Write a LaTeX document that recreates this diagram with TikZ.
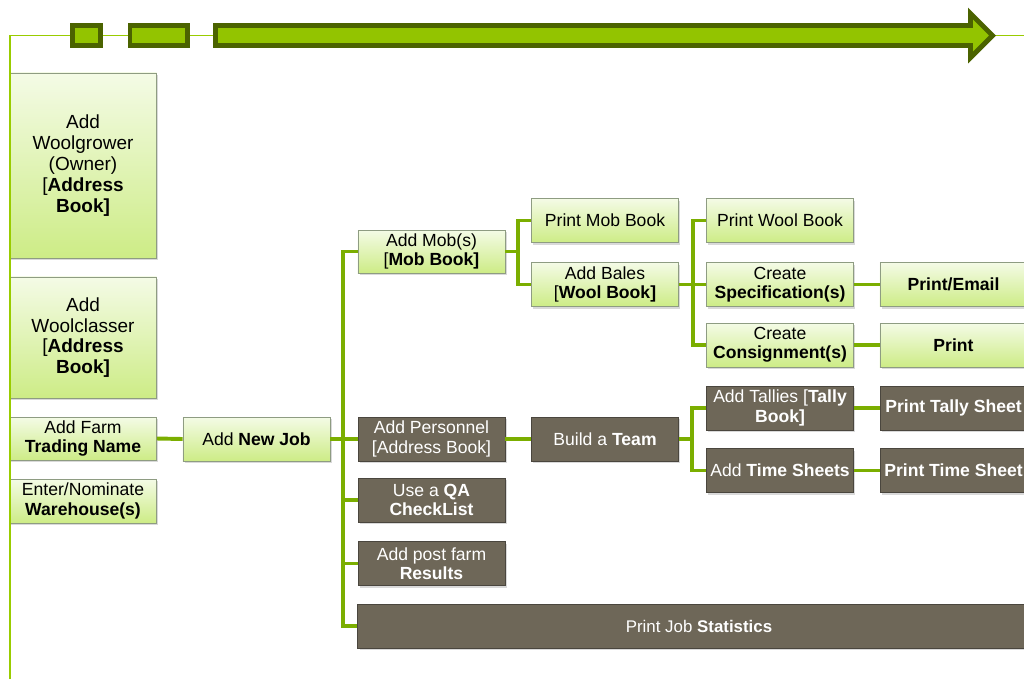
\documentclass[tikz,border=0pt]{standalone}
\usepackage{fontspec}
\setmainfont{Liberation Sans}
\usetikzlibrary{shadows}

\definecolor{barfill}{HTML}{93C400}
\definecolor{bardark}{HTML}{4B6300}
\definecolor{guidegreen}{HTML}{99CC00}
\definecolor{linkgreen}{HTML}{7BAE00}
\definecolor{boxtop}{HTML}{F4FBE6}
\definecolor{boxbottom}{HTML}{CDEC86}
\definecolor{boxedge}{HTML}{8E9C82}
\definecolor{brownfill}{HTML}{6E6758}
\definecolor{brownedge}{HTML}{4A463E}

\tikzset{
  mapbox/.style={minimum width=3.675cm, minimum height=1.1cm, inner sep=1pt, align=center,
    line width=0.6pt, font=\fontsize{12.5}{13.6}\selectfont,
    drop shadow={shadow xshift=1.2pt, shadow yshift=-1.5pt, opacity=0.3}},
  greenbox/.style={mapbox, draw=boxedge, top color=boxtop, bottom color=boxbottom},
  bigbox/.style={greenbox, font=\fontsize{13.5}{14.8}\selectfont},
  brownbox/.style={mapbox, draw=brownedge, fill=brownfill, text=white},
  link/.style={draw=linkgreen, line width=2.8pt},
  guide/.style={draw=guidegreen, line width=1.4pt},
  marker/.style={draw=bardark, fill=barfill, line width=3.5pt, line join=miter}
}

\begin{document}
\begin{tikzpicture}[x=0.025cm,y=-0.025cm]
  \useasboundingbox (0,0) rectangle (1024,679);

  % left column
  \node[bigbox, minimum height=4.625cm] (grower) at (83,165.5) {Add\\Woolgrower\\(Owner)\\{[}\textbf{Address}\\\textbf{Book]}};
  \node[bigbox, minimum height=3.025cm] (classer) at (83,337.5) {Add\\Woolclasser\\{[}\textbf{Address}\\\textbf{Book]}};
  \node[greenbox, minimum height=1.075cm] (farm) at (83,438.5) {Add Farm\\\textbf{Trading Name}};
  \node[greenbox] (warehouse) at (83,501) {Enter/Nominate\\\textbf{Warehouse(s)}};

  \node[greenbox] (newjob) at (256.5,439) {Add \textbf{New Job}};

  % job branches
  \node[greenbox, minimum height=1.075cm] (mob) at (431.5,251.5) {Add Mob(s)\\{[}\textbf{Mob Book]}};
  \node[brownbox] (personnel) at (431.5,439) {Add Personnel\\{[}Address Book]};
  \node[brownbox] (qa) at (431.5,500) {Use a \textbf{QA}\\\textbf{CheckList}};
  \node[brownbox] (results) at (431.5,563.5) {Add post farm\\\textbf{Results}};
  \node[brownbox, minimum width=17.05cm, font=\fontsize{12}{13.6}\selectfont] (stats) at (699,626) {Print Job \textbf{Statistics}};

  \node[greenbox] (printmob) at (605,220.5) {Print Mob Book};
  \node[greenbox] (bales) at (605,284.5) {Add Bales\\{[}\textbf{Wool Book]}};
  \node[brownbox] (team) at (605,439) {Build a \textbf{Team}};

  \node[greenbox] (printwool) at (780,220.5) {Print Wool Book};
  \node[greenbox] (spec) at (780,284.5) {Create\\\textbf{Specification(s)}};
  \node[greenbox] (consign) at (780,345) {Create\\\textbf{Consignment(s)}};
  \node[brownbox] (tallies) at (780,408) {Add Tallies {[}\textbf{Tally}\\\textbf{Book]}};
  \node[brownbox] (timesheets) at (780,470.5) {Add \textbf{Time Sheets}};

  \node[greenbox] (printemail) at (953.5,284.5) {\textbf{Print/Email}};
  \node[greenbox] (printcons) at (953.5,345) {\textbf{Print}};
  \node[brownbox] (printtally) at (953.5,408) {\textbf{Print Tally Sheet}};
  \node[brownbox] (printtime) at (953.5,470.5) {\textbf{Print Time Sheet}};

  % timeline
  \draw[guide] (10,679) -- (10,35.5) -- (1024,35.5);
  \draw[marker] (72.5,25.5) rectangle (100.5,45.5);
  \draw[marker] (130,25.5) rectangle (187.5,45.5);
  \draw[marker] (215.5,25.5) -- (970.5,25.5) -- (970.5,13.5) -- (992.5,35.5) -- (970.5,57.5) -- (970.5,45.5) -- (215.5,45.5) -- cycle;

  % forks
  \coordinate (trunk) at (343,439);
  \coordinate (mobfork) at (518,251.5);
  \coordinate (balesfork) at (693,284.5);
  \coordinate (teamfork) at (692,439);

  \draw[link] (farm.east) -- (newjob.west);
  \draw[link] (newjob.east) -- (personnel.west);
  \draw[link] (mob.west) -| (trunk) |- (stats.west);
  \draw[link] (qa.west) -- (qa.west -| trunk);
  \draw[link] (results.west) -- (results.west -| trunk);
  \draw[link] (mob.east) -- (mobfork);
  \draw[link] (printmob.west) -| (mobfork) |- (bales.west);
  \draw[link] (bales.east) -- (spec.west);
  \draw[link] (printwool.west) -| (balesfork) |- (consign.west);
  \draw[link] (spec.east) -- (printemail.west);
  \draw[link] (consign.east) -- (printcons.west);
  \draw[link] (personnel.east) -- (team.west);
  \draw[link] (team.east) -- (teamfork);
  \draw[link] (tallies.west) -| (teamfork) |- (timesheets.west);
  \draw[link] (tallies.east) -- (printtally.west);
  \draw[link] (timesheets.east) -- (printtime.west);
\end{tikzpicture}
\end{document}
